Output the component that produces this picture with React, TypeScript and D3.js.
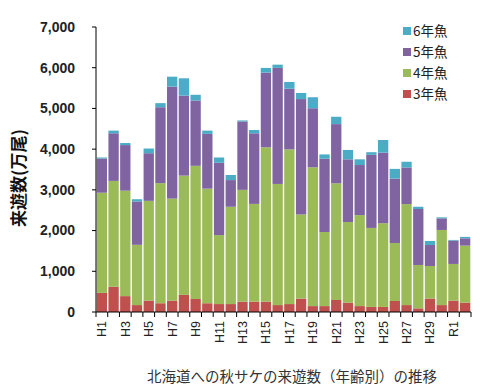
import React, { useEffect, useRef } from 'react';
import * as d3 from 'd3';

// years (Heisei 1-30, Reiwa 1-2)
const years = [
  'H1', 'H2', 'H3', 'H4', 'H5', 'H6', 'H7', 'H8', 'H9', 'H10',
  'H11', 'H12', 'H13', 'H14', 'H15', 'H16', 'H17', 'H18', 'H19', 'H20',
  'H21', 'H22', 'H23', 'H24', 'H25', 'H26', 'H27', 'H28', 'H29', 'H30',
  'R1', 'R2',
];

// returns by age, 万尾
const age3 = [470, 620, 390, 170, 280, 215, 280, 420, 320, 215, 195, 195, 255, 255, 255, 170, 195, 330, 145, 145, 295, 230, 145, 125, 125, 270, 170, 90, 330, 170, 280, 230];
const age4 = [2460, 2600, 2590, 1480, 2450, 2950, 2505, 2930, 3270, 2815, 1695, 2390, 2745, 2400, 3790, 2975, 3800, 2065, 3410, 1820, 2865, 1980, 2235, 1940, 2055, 1425, 2480, 1065, 800, 1845, 900, 1400];
const age5 = [840, 1170, 1120, 1065, 1170, 1865, 2750, 1965, 1605, 1345, 1775, 655, 1680, 1735, 1835, 2850, 1490, 2835, 1450, 1800, 1455, 1540, 1230, 1795, 1735, 1580, 900, 1375, 515, 285, 575, 180];
const age6 = [25, 65, 50, 55, 115, 100, 245, 425, 140, 80, 130, 125, 25, 80, 115, 80, 165, 150, 270, 105, 180, 230, 140, 65, 310, 240, 140, 55, 100, 25, 15, 35];

const seriesKeys = ['3年魚', '4年魚', '5年魚', '6年魚'];
const seriesColors = ['#c0504d', '#9bbb59', '#8064a2', '#4bacc6'];
const yTicks = [0, 1000, 2000, 3000, 4000, 5000, 6000, 7000];

const font = "'Liberation Sans', Arial, sans-serif";
const jpFont = "'Noto Sans CJK JP', sans-serif";

const App = () => {
  const svgRef = useRef(null);

  useEffect(() => {
    if (!svgRef.current) return;
    const svg = d3.select(svgRef.current);
    svg.selectAll('*').remove();

    const width = 484;
    const height = 390;
    const left = 96;
    const right = 471;
    const top = 27;
    const bottom = 312;

    const rows = years.map((y, i) => ({
      year: y,
      '3年魚': age3[i],
      '4年魚': age4[i],
      '5年魚': age5[i],
      '6年魚': age6[i],
    }));

    const x = d3.scaleBand().domain(years).range([left, right]).paddingInner(0.12).paddingOuter(0.06);
    const y = d3.scaleLinear().domain([0, 7000]).range([bottom, top]);
    const stacked = d3.stack().keys(seriesKeys)(rows);

    svg.attr('width', width).attr('height', height);

    // bars
    stacked.forEach((layer, k) => {
      svg.append('g')
        .attr('fill', seriesColors[k])
        .selectAll('rect')
        .data(layer)
        .enter()
        .append('rect')
        .attr('x', d => x(d.data.year))
        .attr('width', x.bandwidth())
        .attr('y', d => y(d[1]))
        .attr('height', d => y(d[0]) - y(d[1]));
    });

    // y axis
    svg.append('line')
      .attr('x1', left).attr('x2', left)
      .attr('y1', top).attr('y2', bottom)
      .attr('stroke', '#000').attr('stroke-width', 1);
    const yt = svg.append('g');
    yt.selectAll('line')
      .data(yTicks)
      .enter()
      .append('line')
      .attr('x1', left - 4).attr('x2', left)
      .attr('y1', d => y(d)).attr('y2', d => y(d))
      .attr('stroke', '#000');
    yt.selectAll('text')
      .data(yTicks)
      .enter()
      .append('text')
      .attr('x', 75)
      .attr('y', d => y(d))
      .attr('dy', '0.35em')
      .attr('text-anchor', 'end')
      .attr('font-family', font)
      .attr('font-size', '14px')
      .attr('font-weight', 'bold')
      .attr('fill', '#222')
      .text(d => d3.format(',')(d));

    // x axis
    svg.append('line')
      .attr('x1', left).attr('x2', right)
      .attr('y1', bottom).attr('y2', bottom)
      .attr('stroke', '#000');
    const boundaries = d3.range(years.length + 1).map(i => left + (right - left) * i / years.length);
    svg.append('g').selectAll('line')
      .data(boundaries)
      .enter()
      .append('line')
      .attr('x1', d => d).attr('x2', d => d)
      .attr('y1', bottom).attr('y2', bottom + 5)
      .attr('stroke', '#000');
    svg.append('g').selectAll('text')
      .data(years.filter((_, i) => i % 2 === 0))
      .enter()
      .append('text')
      .attr('transform', d => `translate(${x(d) + x.bandwidth() / 2 + 4.5}, 321) rotate(-90)`)
      .attr('text-anchor', 'end')
      .attr('font-family', font)
      .attr('font-size', '12.5px')
      .attr('fill', '#222')
      .text(d => d);

    // y title
    svg.append('text')
      .attr('transform', `translate(25, 178) rotate(-90)`)
      .attr('text-anchor', 'middle')
      .attr('font-family', jpFont)
      .attr('font-size', '17px')
      .attr('font-weight', 'bold')
      .attr('fill', '#111')
      .text('来遊数(万尾)');

    // legend
    const legendOrder = [3, 2, 1, 0];
    const lg = svg.append('g');
    legendOrder.forEach((k, i) => {
      lg.append('rect')
        .attr('x', 403).attr('y', 27 + i * 21)
        .attr('width', 8).attr('height', 8)
        .attr('fill', seriesColors[k]);
      lg.append('text')
        .attr('x', 413).attr('y', 31 + i * 21)
        .attr('dy', '0.38em')
        .attr('font-family', jpFont)
        .attr('font-size', '13.5px')
        .attr('fill', '#222')
        .text(seriesKeys[k]);
    });

    // caption
    svg.append('text')
      .attr('x', 292).attr('y', 377)
      .attr('dy', '0.35em')
      .attr('text-anchor', 'middle')
      .attr('font-family', jpFont)
      .attr('font-size', '14.5px')
      .attr('fill', '#333')
      .text('北海道への秋サケの来遊数（年齢別）の推移');
  }, []);

  return (
    <svg ref={svgRef} style={{ position: 'absolute', left: 0, top: 0, background: '#fff' }}></svg>
  );
};

export default App;
